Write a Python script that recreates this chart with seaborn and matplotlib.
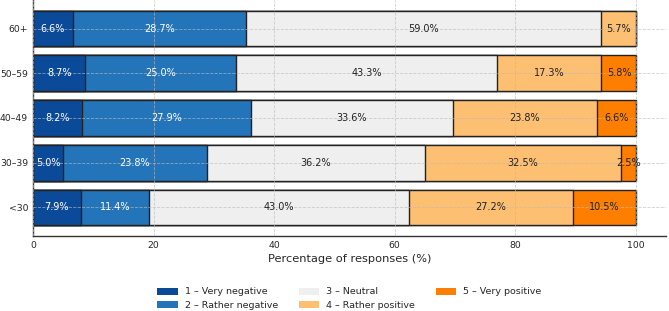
import matplotlib
matplotlib.use("Agg")
import matplotlib.pyplot as plt
import seaborn as sns
import numpy as np
import pandas as pd
from matplotlib.patches import Patch

groups = ["60+", "50–59", "40–49", "30–39", "<30"]
very_negative = [6.6, 8.7, 8.2, 5.0, 7.9]
rather_negative = [28.7, 25.0, 27.9, 23.8, 11.4]
neutral = [59.0, 43.3, 33.6, 36.2, 43.0]
rather_positive = [5.7, 17.3, 23.8, 32.5, 27.2]
very_positive = [0.0, 5.8, 6.6, 2.5, 10.5]

labels = ["1 – Very negative", "2 – Rather negative", "3 – Neutral",
          "4 – Rather positive", "5 – Very positive"]
colors = ["#0b4a98", "#2474b9", "#efefef", "#fdbf71", "#fe7f00"]
text_colors = ["white", "white", "#222222", "#222222", "#222222"]

series = [very_negative, rather_negative, neutral, rather_positive, very_positive]

sns.set_style("white")
plt.rcParams["font.family"] = ["DejaVu Sans"]

fig = plt.figure(figsize=(6.69, 3.11), dpi=100)
ax = fig.add_axes([33 / 669, 1 - 236 / 311, 633 / 669, 236 / 311])

vals = np.array(series)
cum = np.cumsum(vals, axis=0)

# draw cumulative bars from the outermost layer inwards
for i in range(len(series) - 1, -1, -1):
    df = pd.DataFrame({"group": groups, "value": cum[i]})
    sns.barplot(data=df, x="value", y="group", orient="h", color=colors[i],
                saturation=1, width=0.8, edgecolor="#222222", linewidth=1.0,
                ax=ax, errorbar=None)

# value labels
for i in range(len(series)):
    for j, g in enumerate(groups):
        v = vals[i, j]
        if v <= 0:
            continue
        center = cum[i, j] - v / 2
        ax.text(center, j, f"{v:.1f}%", ha="center", va="center",
                color=text_colors[i], fontsize=7.0)

ax.set_xlim(0, 105)
ax.set_ylim(4.64, -0.64)
ax.set_xticks([0, 20, 40, 60, 80, 100])
ax.set_xlabel("Percentage of responses (%)", fontsize=8.2, labelpad=3)
ax.set_ylabel("")
ax.tick_params(axis="both", labelsize=6.7, length=2, pad=1.5, color="#444444")
ax.grid(True, linestyle="--", color="#bbbbbb", linewidth=0.6, alpha=0.7)
ax.set_axisbelow(False)
for s in ["top", "right"]:
    ax.spines[s].set_visible(False)
for s in ["left", "bottom"]:
    ax.spines[s].set_color("#333333")
    ax.spines[s].set_linewidth(1.0)

handles = [Patch(facecolor=c, edgecolor="none", label=l) for c, l in zip(colors, labels)]
ax.legend(handles=handles, loc="upper center", bbox_to_anchor=(0.5, -0.182),
          ncol=3, frameon=False, fontsize=6.8, handlelength=2.15,
          handleheight=0.75, handletextpad=0.75, columnspacing=2.2,
          labelspacing=0.5)

fig.savefig("out.png", dpi=100)
